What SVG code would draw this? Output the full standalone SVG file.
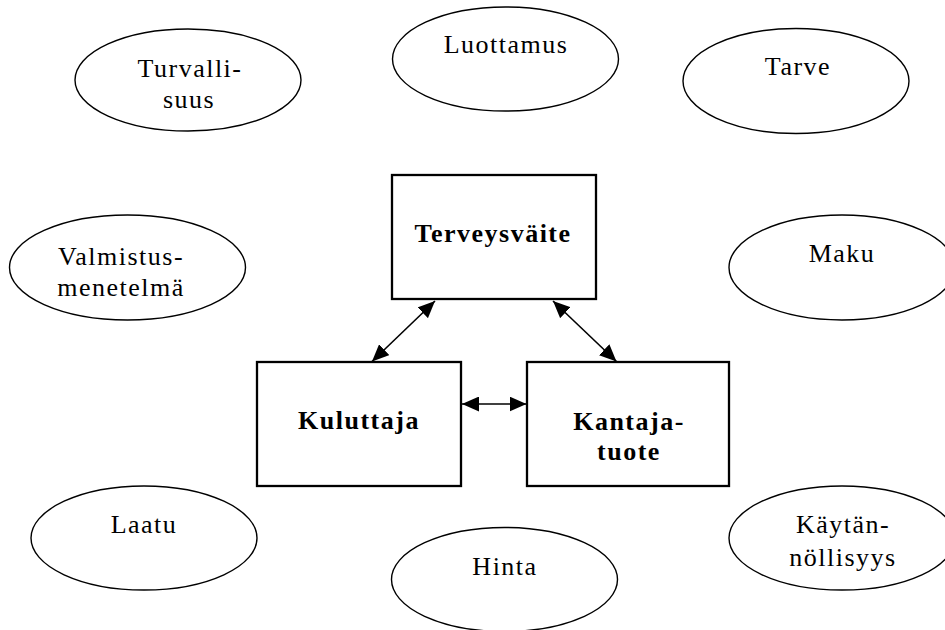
<svg xmlns="http://www.w3.org/2000/svg" width="945" height="630" viewBox="0 0 945 630">
<style>
.bg{fill:#fff}
.ell{fill:#fff;stroke:#000;stroke-width:1.4}
.box{fill:#fff;stroke:#000;stroke-width:2.3}
.t{font-family:"Liberation Serif","Times New Roman",serif;font-size:26px;fill:#000;text-anchor:middle;letter-spacing:1.5px}
.b{font-weight:bold}
.con{stroke:#000;stroke-width:1.6;fill:none;marker-start:url(#ah);marker-end:url(#ah)}
</style>
<defs>
<marker id="ah" viewBox="0 0 17 15" refX="17" refY="7.5" markerWidth="17" markerHeight="15" markerUnits="userSpaceOnUse" orient="auto-start-reverse">
<path d="M0,0 L17,7.5 L0,15 z" fill="#000"/>
</marker>
</defs>
<rect class="bg" x="0" y="0" width="945" height="630"/>
<g id="turvallisuus">
<ellipse class="ell" cx="188" cy="80" rx="113" ry="51"/>
<text class="t" x="190" y="77">Turvalli-</text>
<text class="t" x="189" y="108">suus</text>
</g>
<g id="luottamus">
<ellipse class="ell" cx="505.5" cy="59" rx="113" ry="52"/>
<text class="t" x="506" y="53">Luottamus</text>
</g>
<g id="tarve">
<ellipse class="ell" cx="796" cy="81" rx="113" ry="52.5"/>
<text class="t" x="798" y="75">Tarve</text>
</g>
<g id="valmistusmenetelma">
<ellipse class="ell" cx="127.5" cy="267.5" rx="118" ry="52.5"/>
<text class="t" x="121" y="265">Valmistus-</text>
<text class="t" x="121" y="296">menetelmä</text>
</g>
<g id="maku">
<ellipse class="ell" cx="842" cy="267.5" rx="113" ry="52.5"/>
<text class="t" x="842" y="262">Maku</text>
</g>
<g id="laatu">
<ellipse class="ell" cx="144" cy="538" rx="113" ry="52"/>
<text class="t" x="144" y="533">Laatu</text>
</g>
<g id="hinta">
<ellipse class="ell" cx="504.5" cy="579.5" rx="113" ry="52"/>
<text class="t" x="505" y="575">Hinta</text>
</g>
<g id="kaytannollisyys">
<ellipse class="ell" cx="842" cy="538" rx="113" ry="52"/>
<text class="t" x="843" y="533">Käytän-</text>
<text class="t" x="843" y="566">nöllisyys</text>
</g>
<g id="terveysvaite">
<rect class="box" x="392" y="175" width="204" height="124"/>
<text class="t b" x="493" y="242">Terveysväite</text>
</g>
<g id="kuluttaja">
<rect class="box" x="257" y="362" width="204" height="124"/>
<text class="t b" x="359" y="429">Kuluttaja</text>
</g>
<g id="kantajatuote">
<rect class="box" x="527" y="362" width="202" height="124"/>
<text class="t b" x="629" y="430">Kantaja-</text>
<text class="t b" x="629" y="460">tuote</text>
</g>
<g id="connectors">
<line class="con" x1="435" y1="301" x2="372" y2="361.5"/>
<line class="con" x1="553" y1="301" x2="616.5" y2="361.5"/>
<line class="con" x1="462" y1="404" x2="526.5" y2="404"/>
</g>
</svg>
